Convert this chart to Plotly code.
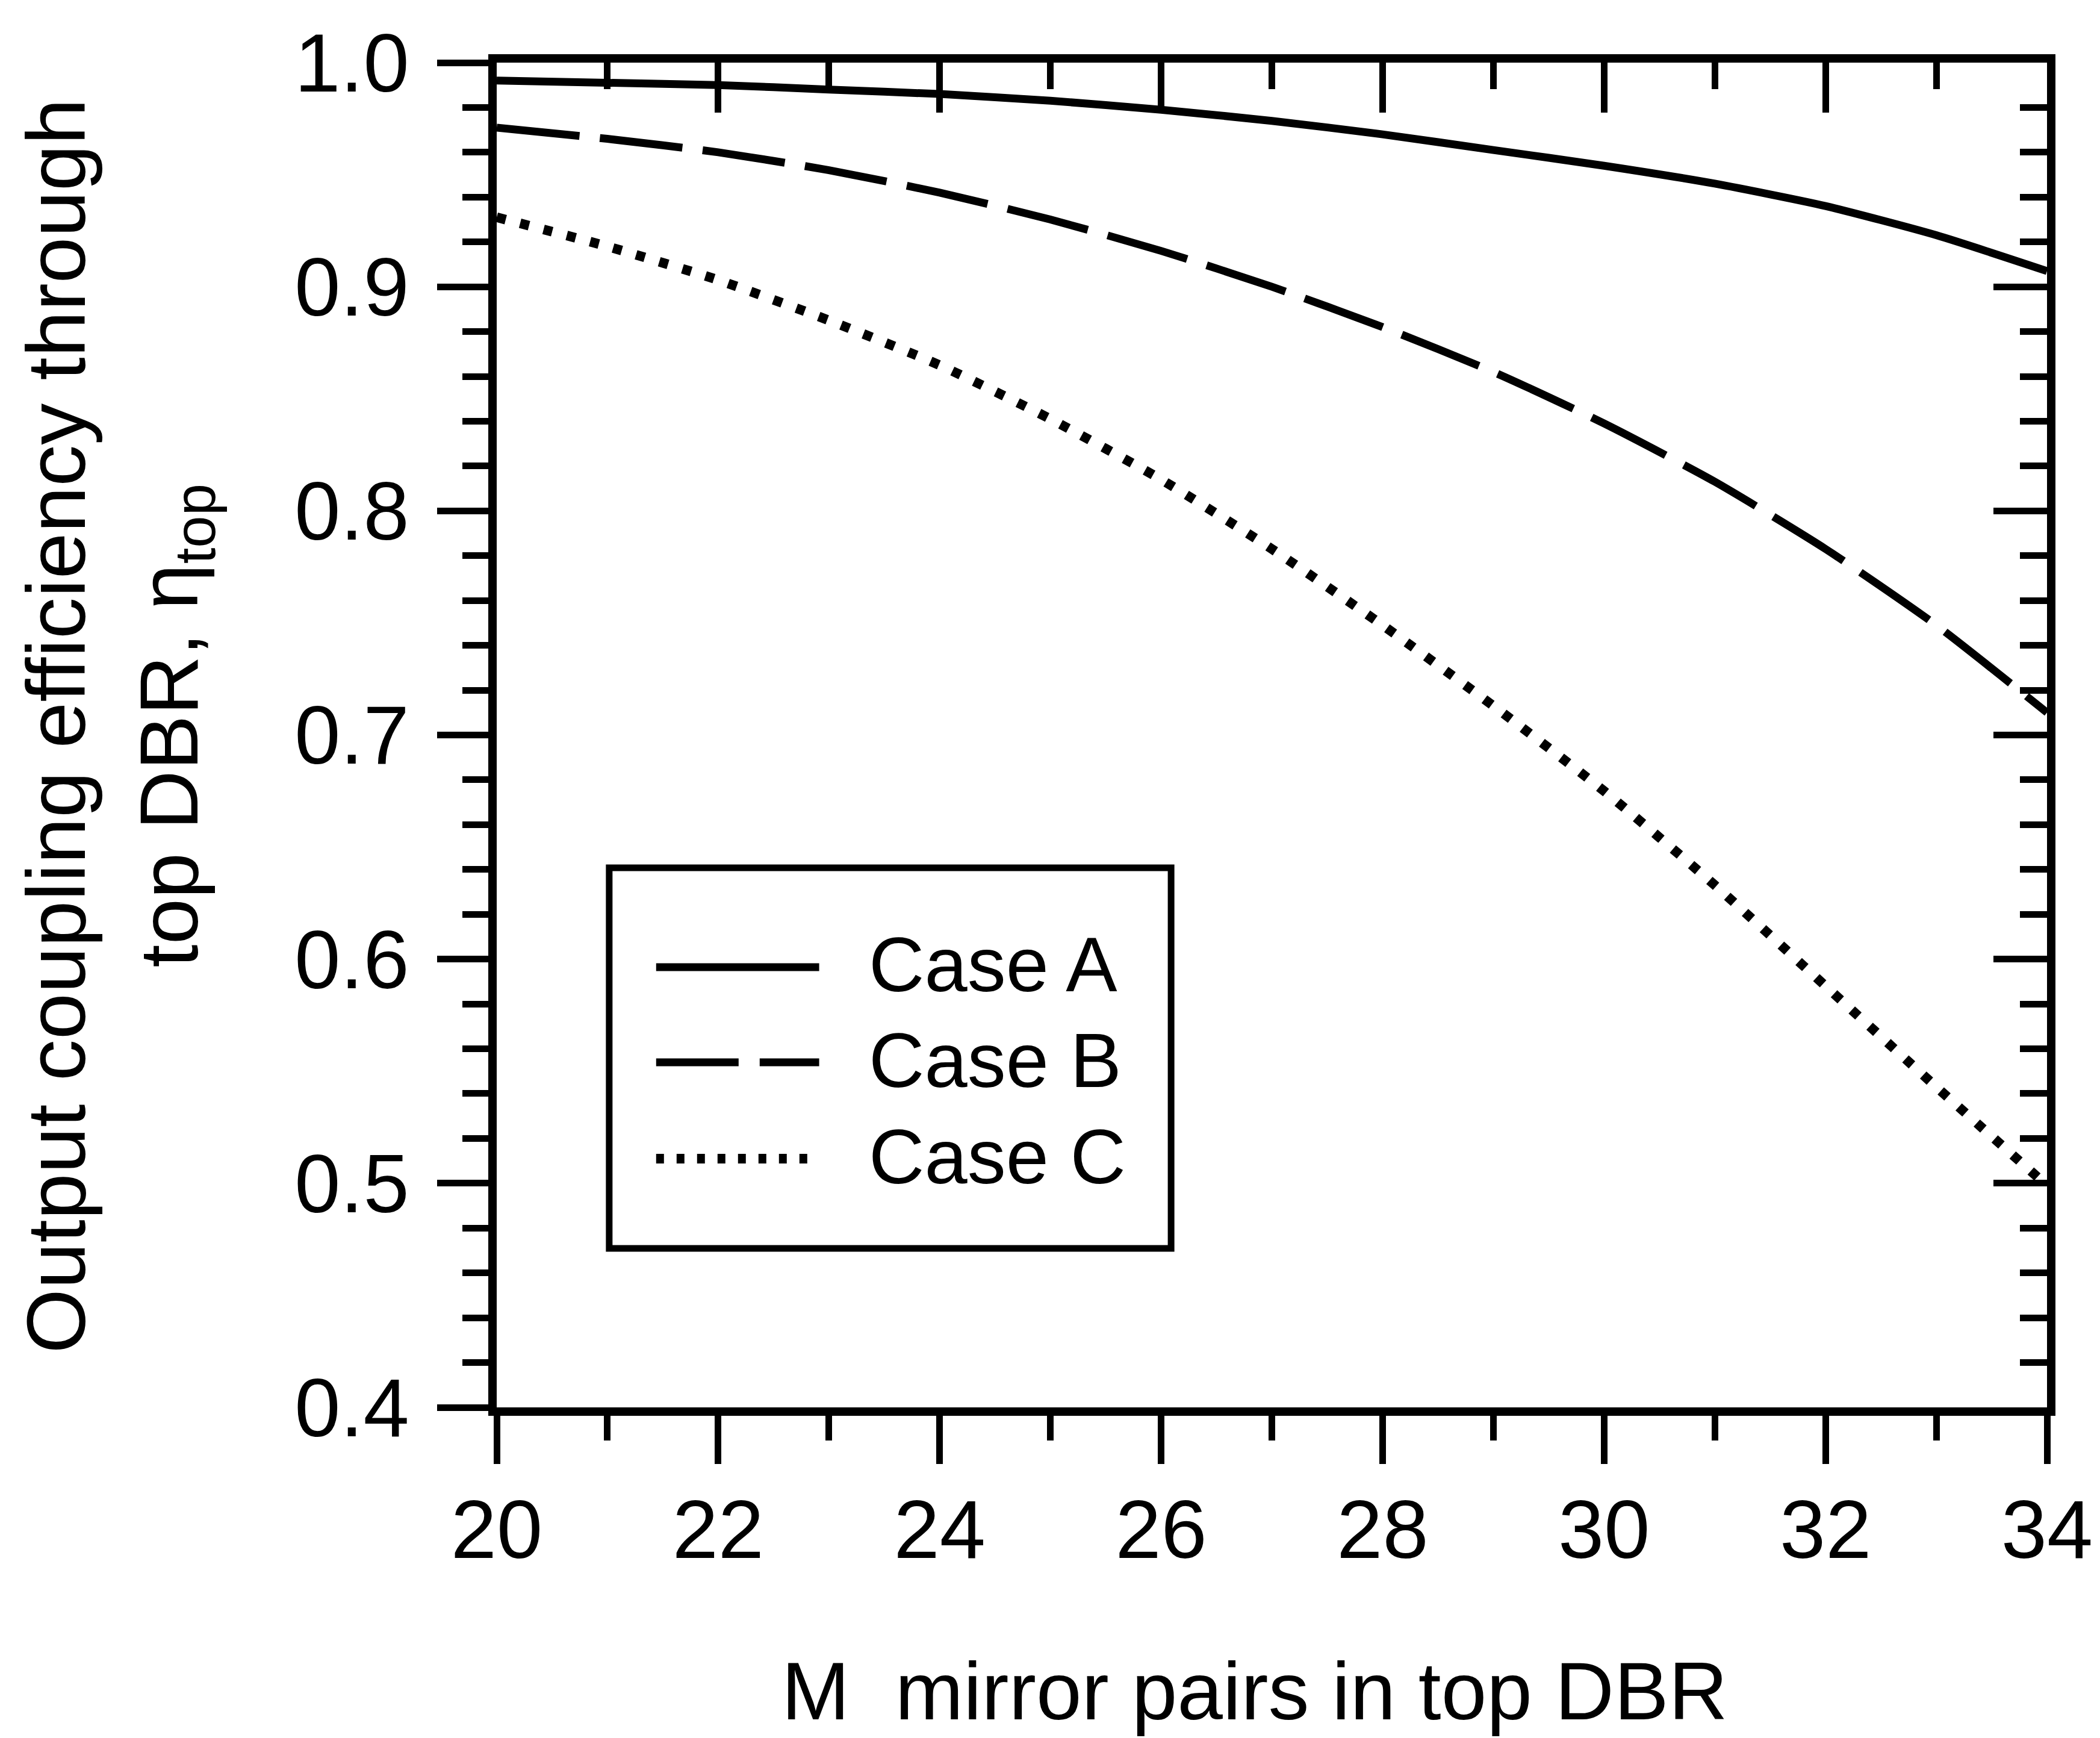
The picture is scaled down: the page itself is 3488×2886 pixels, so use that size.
import plotly.graph_objects as go

# ---- data ----
mirror_pairs = [20, 21, 22, 23, 24, 25, 26, 27, 28, 29, 30, 31, 32, 33, 34]
case_a = [0.992, 0.991, 0.990, 0.988, 0.986, 0.983, 0.979, 0.974, 0.968, 0.961, 0.954, 0.946, 0.936, 0.923, 0.907]
case_b = [0.971, 0.966, 0.960, 0.952, 0.942, 0.930, 0.916, 0.900, 0.882, 0.862, 0.839, 0.813, 0.783, 0.749, 0.710]
case_c = [0.931, 0.918, 0.903, 0.885, 0.865, 0.841, 0.814, 0.783, 0.749, 0.713, 0.675, 0.633, 0.588, 0.543, 0.499]
series_names = ["Case A", "Case B", "Case C"]

x_ticks = [20, 22, 24, 26, 28, 30, 32, 34]
y_ticks = [0.4, 0.5, 0.6, 0.7, 0.8, 0.9, 1.0]

FONT = "Liberation Sans, Arial, Helvetica, sans-serif"
W, H = 3488, 2886
ML, MR, MT, MB = 825, 86, 104, 549
pw = W - ML - MR
ph = H - MT - MB


def px_x(p):
    return (p - ML) / pw


def px_y(p):
    return (H - MB - p) / ph


styles = [dict(width=13, dash="solid"),
          dict(width=13, dash="138px,34px"),
          dict(width=16, dash="15px,25px")]
legend_dash = ["solid", "137px,35px", "13px,21px"]

fig = go.Figure()
for i, (name, vals, st) in enumerate(zip(series_names, [case_a, case_b, case_c], styles)):
    # Case A drawn on the mirrored (top/right) axes so those axes render their ticks
    fig.add_trace(go.Scatter(x=mirror_pairs, y=vals, mode="lines", name=name,
                             xaxis="x2" if i == 0 else "x", yaxis="y2" if i == 0 else "y",
                             showlegend=False,
                             line=dict(color="black", width=st["width"], dash=st["dash"],
                                       shape="spline", smoothing=0.6)))

axis_common = dict(showgrid=False, zeroline=False, tickcolor="black", tickwidth=11,
                   tickfont=dict(family=FONT, size=137, color="black"))

fig.update_layout(
    width=W, height=H,
    margin=dict(l=ML, r=MR, t=MT, b=MB, pad=0),
    paper_bgcolor="white", plot_bgcolor="white",
    font=dict(family=FONT, color="black"),
    showlegend=False,
    xaxis=dict(range=[20, 34], tickvals=x_ticks, ticktext=[str(v) for v in x_ticks],
               ticks="outside", ticklen=80, showline=True, linewidth=14, linecolor="black",
               mirror=True, ticklabelstandoff=-8,
               minor=dict(dtick=1, tick0=20, ticks="outside", ticklen=41, tickwidth=11, tickcolor="black"),
               **axis_common),
    yaxis=dict(range=[0.4, 1.0], tickvals=y_ticks, ticktext=[f"{v:.1f}" for v in y_ticks],
               ticks="outside", ticklen=85, showline=True, linewidth=14, linecolor="black",
               mirror=True, ticklabelstandoff=19,
               minor=dict(dtick=0.02, tick0=0.4, ticks="outside", ticklen=43, tickwidth=11, tickcolor="black"),
               **axis_common),
    xaxis2=dict(overlaying="x", anchor="y2", side="top", range=[20, 34], tickvals=x_ticks,
                ticks="inside", ticklen=83, showticklabels=False, showline=False,
                minor=dict(dtick=1, tick0=20, ticks="inside", ticklen=44, tickwidth=11, tickcolor="black"),
                **axis_common),
    yaxis2=dict(overlaying="y", anchor="x2", side="right", range=[0.4, 1.0], tickvals=y_ticks,
                ticks="inside", ticklen=89, showticklabels=False, showline=False,
                minor=dict(dtick=0.02, tick0=0.4, ticks="inside", ticklen=45, tickwidth=11, tickcolor="black"),
                **axis_common),
)

# ---- legend box drawn by hand to match the reference layout ----
LEG_X0, LEG_X1, LEG_Y0, LEG_Y1 = 1012, 1946, 1441, 2073
row_y = [1606, 1764, 1924]
sample_x0, sample_x1, text_x = 1090, 1361, 1441
fig.add_shape(type="rect", xref="paper", yref="paper",
              x0=px_x(LEG_X0), x1=px_x(LEG_X1), y0=px_y(LEG_Y1), y1=px_y(LEG_Y0),
              line=dict(color="black", width=11), fillcolor="white", layer="above")
for name, ry, dsh, st in zip(series_names, row_y, legend_dash, styles):
    fig.add_shape(type="line", xref="paper", yref="paper",
                  x0=px_x(sample_x0), x1=px_x(sample_x1), y0=px_y(ry), y1=px_y(ry),
                  line=dict(color="black", width=st["width"], dash=dsh), layer="above")
    fig.add_annotation(text=name, xref="paper", yref="paper",
                       x=px_x(text_x), y=px_y(ry - 4), xanchor="left", yanchor="middle",
                       showarrow=False, font=dict(family=FONT, size=128, color="black"))

# ---- axis titles ----
fig.add_annotation(text="M\u00a0 mirror pairs in top DBR", xref="paper", yref="paper",
                   x=px_x(2085), y=px_y(2808), xanchor="center", yanchor="middle",
                   showarrow=False, font=dict(family=FONT, size=136, color="black"))
fig.add_annotation(text="Output coupling efficiency through", xref="paper", yref="paper",
                   x=px_x(92), y=px_y(1206), xanchor="center", yanchor="middle", textangle=-90,
                   showarrow=False, font=dict(family=FONT, size=138, color="black"))
fig.add_annotation(text="top DBR, \u03b7<sub>top</sub>", xref="paper", yref="paper",
                   x=px_x(290), y=px_y(1205), xanchor="center", yanchor="middle", textangle=-90,
                   showarrow=False, font=dict(family=FONT, size=137, color="black"))

fig.write_html("out.html")
